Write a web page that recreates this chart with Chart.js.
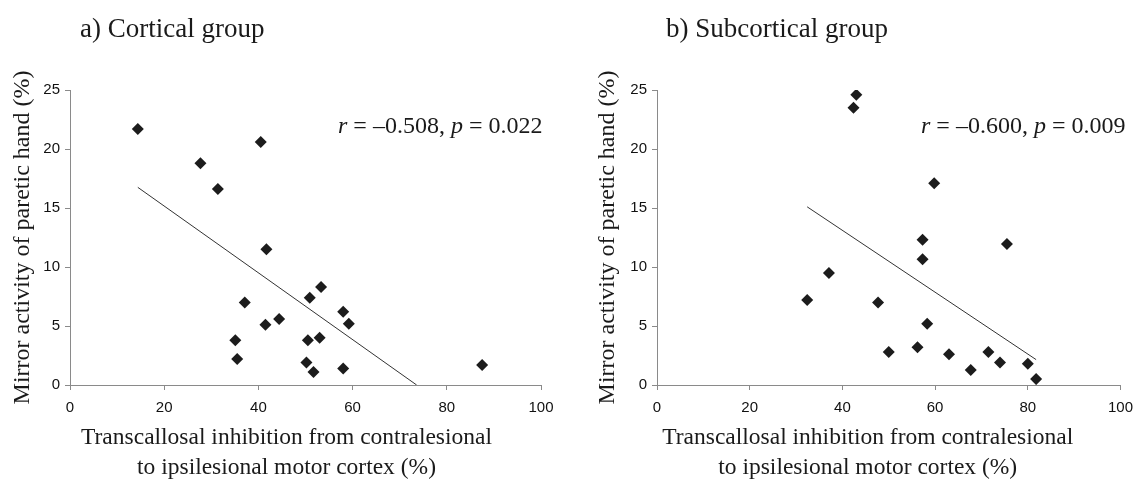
<!DOCTYPE html>
<html>
<head>
<meta charset="utf-8">
<script src="https://cdn.jsdelivr.net/npm/chart.js@4.4.1/dist/chart.umd.min.js"></script>
<style>
  html, body { margin: 0; padding: 0; background: #fff; }
  body { width: 1142px; height: 481px; position: relative; overflow: hidden; }
  .panel { position: absolute; top: 0; height: 481px; }
  #panel-a { left: 0; width: 585px; }
  #panel-b { left: 585px; width: 557px; }
</style>
</head>
<body>
<div class="panel" id="panel-a"><canvas id="chart-a"></canvas></div>
<div class="panel" id="panel-b"><canvas id="chart-b"></canvas></div>
<script>
// a) Cortical group
const corticalTci = [14.4, 27.7, 31.4, 40.5, 41.7, 37.1, 35.1, 35.5, 41.5, 44.4, 50.9, 53.3, 50.5, 53.0, 50.2, 51.7, 58.0, 59.2, 58.0, 87.5];
const corticalMirror = [21.7, 18.8, 16.6, 20.6, 11.5, 7.0, 3.8, 2.2, 5.1, 5.6, 7.4, 8.3, 3.8, 4.0, 1.9, 1.1, 6.2, 5.2, 1.4, 1.7];
const corticalFitX = [14.4, 73.6];
const corticalFitY = [16.75, 0];

// b) Subcortical group
const subcorticalTci = [43.0, 42.4, 59.8, 57.3, 57.3, 75.5, 37.1, 32.4, 47.7, 58.3, 50.0, 56.2, 63.0, 67.7, 71.5, 74.0, 80.0, 81.8];
const subcorticalMirror = [24.6, 23.5, 17.1, 12.3, 10.65, 11.95, 9.5, 7.2, 7.0, 5.2, 2.8, 3.2, 2.6, 1.27, 2.8, 1.9, 1.8, 0.5];
const subcorticalFitX = [32.4, 81.8];
const subcorticalFitY = [15.1, 2.15];

const xTicks = [0, 20, 40, 60, 80, 100];
const yTicks = [0, 5, 10, 15, 20, 25];

const yTitle = 'Mirror activity of paretic hand (%)';
const xTitle = ['Transcallosal inhibition from contralesional', 'to ipsilesional motor cortex (%)'];

const SERIF = '"Liberation Serif", "Times New Roman", serif';
const SANS = '"Liberation Sans", Arial, sans-serif';
const AXIS_GREY = '#8a8a8a';

function toPoints(xs, ys) {
    return xs.map((x, i) => ({ x: x, y: ys[i] }));
}

// panel title, r/p annotation and the two-line x title
const panelText = {
    id: 'panelText',
    afterDraw(chart, args, opts) {
        const ctx = chart.ctx;
        const area = chart.chartArea;
        ctx.save();
        ctx.fillStyle = '#1a1a1a';
        ctx.textBaseline = 'middle';

        ctx.font = '27px ' + SERIF;
        ctx.textAlign = 'left';
        ctx.fillText(opts.title, opts.titleX, opts.titleY);

        let x = area.left + opts.statDx;
        opts.stat.forEach(seg => {
            ctx.font = (seg[1] ? 'italic ' : '') + '24px ' + SERIF;
            ctx.fillText(seg[0], x, area.top + opts.statDy);
            x += ctx.measureText(seg[0]).width;
        });

        ctx.font = '23.5px ' + SERIF;
        ctx.textAlign = 'center';
        const cx = (area.left + area.right) / 2 + opts.xTitleShift;
        xTitle.forEach((line, i) => ctx.fillText(line, cx, 438 + i * 30));
        ctx.restore();
    }
};

function makeChart(id, xs, ys, fitX, fitY, o) {
    return new Chart(document.getElementById(id), {
        type: 'scatter',
        data: {
            datasets: [{
                data: toPoints(xs, ys),
                pointStyle: 'rectRot',
                pointRadius: 6,
                pointHoverRadius: 6,
                backgroundColor: '#1c1c1c',
                borderWidth: 0
            }, {
                type: 'line',
                data: toPoints(fitX, fitY),
                borderColor: '#333',
                borderWidth: 1,
                pointRadius: 0,
                fill: false
            }]
        },
        options: {
            responsive: true,
            maintainAspectRatio: false,
            animation: false,
            events: [],
            layout: { padding: { top: 90, right: o.padRight, bottom: 0, left: 0 } },
            plugins: {
                legend: { display: false },
                tooltip: { enabled: false },
                panelText: o.text
            },
            scales: {
                x: {
                    type: 'linear',
                    min: 0,
                    max: 100,
                    afterBuildTicks: s => { s.ticks = xTicks.map(v => ({ value: v })); },
                    afterFit: s => { s.height = 96; },
                    grid: { drawOnChartArea: false, tickLength: 5, color: AXIS_GREY },
                    border: { color: AXIS_GREY },
                    ticks: { color: '#111', padding: 9, font: { family: SANS, size: 15 } }
                },
                y: {
                    type: 'linear',
                    min: 0,
                    max: 25,
                    afterBuildTicks: s => { s.ticks = yTicks.map(v => ({ value: v })); },
                    afterFit: s => { s.width = o.yWidth; },
                    grid: { drawOnChartArea: false, tickLength: 5, color: AXIS_GREY },
                    border: { color: AXIS_GREY },
                    ticks: { color: '#111', padding: 5, font: { family: SANS, size: 15 } },
                    title: {
                        display: true,
                        text: yTitle,
                        color: '#1a1a1a',
                        padding: { top: 8, bottom: 0 },
                        font: { family: SERIF, size: 24 }
                    }
                }
            }
        },
        plugins: [panelText]
    });
}

makeChart('chart-a', corticalTci, corticalMirror, corticalFitX, corticalFitY, {
    padRight: 44,
    yWidth: 70,
    text: {
        title: 'a) Cortical group', titleX: 80, titleY: 30,
        stat: [['r', true], [' = \u20130.508, ', false], ['p', true], [' = 0.022', false]],
        statDx: 268, statDy: 37,
        xTitleShift: -19
    }
});

makeChart('chart-b', subcorticalTci, subcorticalMirror, subcorticalFitX, subcorticalFitY, {
    padRight: 15,
    yWidth: 72,
    text: {
        title: 'b) Subcortical group', titleX: 81, titleY: 30,
        stat: [['r', true], [' = \u20130.600, ', false], ['p', true], [' = 0.009', false]],
        statDx: 264, statDy: 37,
        xTitleShift: -21
    }
});
</script>
</body>
</html>
